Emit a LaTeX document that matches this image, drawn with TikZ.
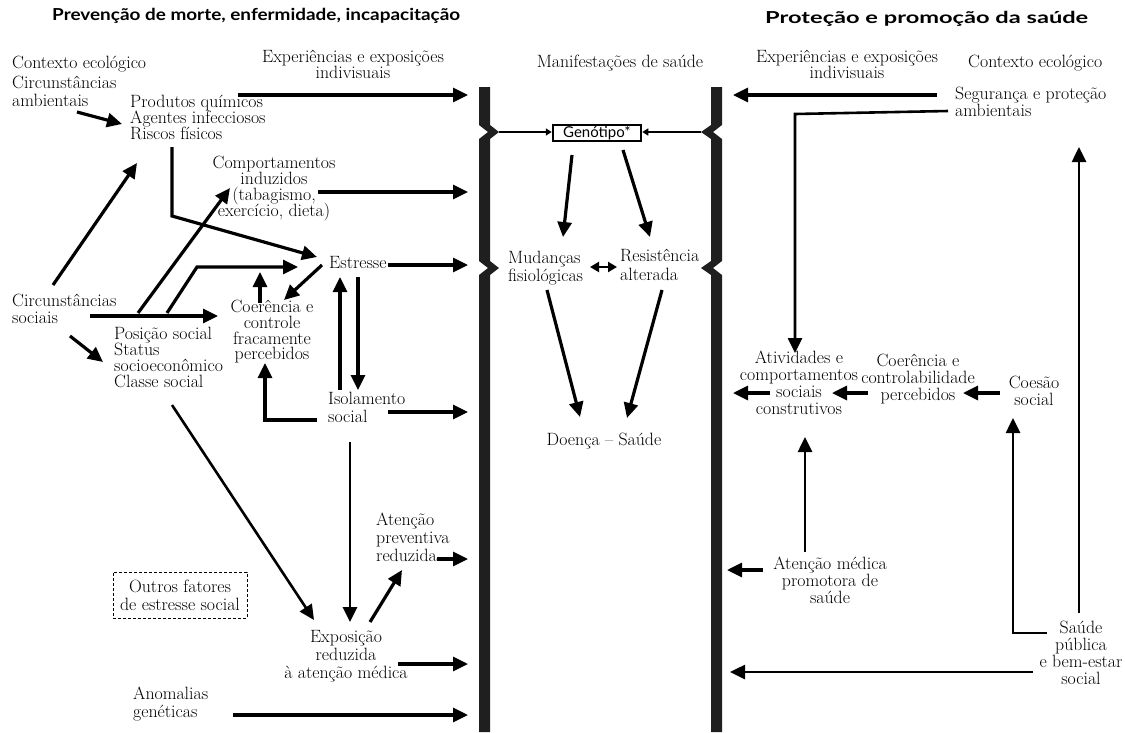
\documentclass[tikz,border=0pt]{standalone}
\usepackage{fontspec}
\usepackage{graphicx}
\newfontfamily\headfont{Lato}
\usetikzlibrary{arrows.meta}
\begin{document}
\begin{tikzpicture}[x=1pt,y=-1pt,
  tx/.style={inner sep=0pt, font={\fontsize{17.8}{#1}\selectfont\lineskiplimit=-50pt}, execute at begin node={\rule{0pt}{15pt}}},
  tx/.default=16.5,
  arr/.style={line width=3.2pt, -{Triangle[length=15pt,width=14pt]}},
  arrt/.style={line width=2.6pt, -{Triangle[length=15pt,width=14pt]}},
  gline/.style={line width=2pt, -{Triangle[length=6pt,width=7pt]}},
  barfill/.style={fill=black!88}
]
\useasboundingbox (0,0) rectangle (1125,732);

% ---------- headings
\node[anchor=base west, inner sep=0pt] (headL) at (52,20) {\resizebox{408pt}{\height}{\headfont\bfseries\fontsize{16.5}{17}\selectfont Prevenção de morte, enfermidade, incapacitação}};
\node[anchor=base west, inner sep=0pt] (headR) at (765,23) {\resizebox{323pt}{\height}{\headfont\bfseries\fontsize{16.5}{17}\selectfont Proteção e promoção da saúde}};

% ---------- bars
\fill[barfill] (479,87) -- (490,87) -- (490,125) -- (499,132) -- (490,139) -- (490,261) -- (499,268) -- (490,275) -- (490,732) -- (479,732) -- (479,275) -- (488,268) -- (479,261) -- (479,139) -- (488,132) -- (479,125) -- cycle;
\fill[barfill] (711,87) -- (722,87) -- (722,125) -- (713,132) -- (722,139) -- (722,261) -- (713,268) -- (722,275) -- (722,732) -- (711,732) -- (711,275) -- (701,268) -- (711,261) -- (711,139) -- (701,132) -- (711,125) -- cycle;
\coordinate (barLg) at (499,132);
\coordinate (barRg) at (701,132);

% ---------- left texts
\node[tx,anchor=north west] (ctxL) at (12,53) {Contexto ecológico};
\node[tx=18,anchor=north west,align=left] (circamb) at (12,76) {Circunstâncias\\ambientais};
\node[tx=16,anchor=north west,align=left] (prod) at (130,95) {Produtos químicos\\Agentes infecciosos\\Riscos físicos};
\node[tx=15.5,anchor=north,align=center] (expL) at (353,50) {Experiências e exposições\\indivisuais};
\node[tx=16,anchor=north,align=center] (comp) at (274,156) {Comportamentos\\induzidos\\(tabagismo,\\exercício, dieta)};
\node[tx=17,anchor=north west,align=left] (circsoc) at (12,294) {Circunstâncias\\sociais};
\node[tx=16,anchor=north west,align=left] (pos) at (114,327) {Posição social\\Status\\socioeconômico\\Classe social};
\node[tx=15.7,anchor=north,align=center] (coer) at (272,300) {Coerência e\\controle\\fracamente\\percebidos};
\node[tx,anchor=north west] (estr) at (329,253) {Estresse};
\node[tx=18,anchor=north west,align=left] (isol) at (328,392) {Isolamento\\social};
\node[tx=18,anchor=north west,align=left] (atprev) at (376,513) {Atenção\\preventiva\\reduzida};
\node[tx=18,draw,dash pattern=on 3pt off 2pt,line width=0.8pt,minimum width=134pt,minimum height=46pt,align=center] (outros) at (180,595) {Outros fatores\\de estresse social};
\node[tx=18,anchor=north,align=center] (expo) at (346,630) {Exposição\\reduzida\\à atenção médica};
\node[tx=18,anchor=north west,align=left] (anom) at (133,687) {Anomalias\\genéticas};

% ---------- middle texts
\node[tx,anchor=north] (manif) at (620,52) {Manifestações de saúde};
\node[draw,line width=2.5pt,minimum width=88pt,minimum height=16pt,inner sep=0pt,font=\headfont\fontsize{15}{15}\selectfont] (gen) at (597,133) {Genótipo*};
\node[tx=18,anchor=north west,align=left] (mud) at (508,251) {Mudanças\\fisiológicas};
\node[tx=19,anchor=north west,align=left] (res) at (620,249) {Resistência\\alterada};
\node[tx,anchor=north] (doenca) at (604,430) {Doença – Saúde};

% ---------- right texts
\node[tx=15.5,anchor=north,align=center] (expR) at (847,50) {Experiências e exposições\\indivisuais};
\node[tx,anchor=north west] (ctxR) at (968,52) {Contexto ecológico};
\node[tx=16.5,anchor=north west,align=left] (seg) at (955,87) {Segurança e proteção\\ambientais};
\node[tx=17,anchor=north,align=center] (ativ) at (799,351) {Atividades e\\comportamentos\\sociais\\construtivos};
\node[tx=17,anchor=north,align=center] (coerR) at (918,354) {Coerência e\\controlabilidade\\percebidos};
\node[tx=17,anchor=north,align=center] (coes) at (1034,376) {Coesão\\social};
\node[tx=17,anchor=north,align=center] (atmed) at (830,557) {Atenção médica\\promotora de\\saúde};
\node[tx=17,anchor=north,align=center] (saude) at (1081,621) {Saúde\\pública\\e bem-estar\\social};

% ---------- connector coordinates (left)
\coordinate (prodA) at (238,95);   \coordinate (barL1) at (468,95);
\coordinate (ambA) at (77,112);    \coordinate (prodIn) at (122,124);
\coordinate (compA) at (318,192);  \coordinate (barL2) at (468,192);
\coordinate (riscA) at (172,147);  \coordinate (riscB) at (172,216); \coordinate (estrIn1) at (317,257);
\coordinate (socA) at (53,285);    \coordinate (prodIn2) at (137,163);
\coordinate (posA) at (138,313);   \coordinate (compIn) at (230,188);
\coordinate (socB) at (90,316);    \coordinate (coerIn) at (218,316);
\coordinate (posB) at (167,313);   \coordinate (posBend) at (197,267); \coordinate (estrIn2) at (298,267);
\coordinate (socC) at (70,336);    \coordinate (posIn) at (103,362);
\coordinate (coerA) at (260,303);  \coordinate (coerUp) at (260,272);
\coordinate (estrA) at (322,265);  \coordinate (coerIn2) at (284,300);
\coordinate (estrB) at (388,265);  \coordinate (barL3) at (468,265);
\coordinate (isolA) at (340,390);  \coordinate (estrIn3) at (340,277);
\coordinate (estrC) at (358,277);  \coordinate (isolIn) at (358,390);
\coordinate (isolB) at (317,420);  \coordinate (coerIn3) at (265,363);
\coordinate (isolC) at (388,412);  \coordinate (barL4) at (468,412);
\coordinate (posC) at (172,405);   \coordinate (expoIn1) at (314,620);
\coordinate (isolD) at (350,442);  \coordinate (expoIn2) at (350,622);
\coordinate (expoA) at (370,622);  \coordinate (atprevIn) at (402,570);
\coordinate (atprevA) at (437,559); \coordinate (barL5) at (468,559);
\coordinate (expoB) at (398,664);  \coordinate (barL6) at (468,664);
\coordinate (anomA) at (233,715);  \coordinate (barL7) at (468,715);

\draw[arr] (prodA) -- (barL1);
\draw[arr] (ambA) -- (prodIn);
\draw[arr] (compA) -- (barL2);
\draw[arr] (riscA) -- (riscB) -- (estrIn1);
\draw[arr] (socA) -- (prodIn2);
\draw[arr] (posA) -- (compIn);
\draw[arr] (socB) -- (coerIn);
\draw[arr] (posB) -- (posBend) -- (estrIn2);
\draw[arr] (socC) -- (posIn);
\draw[arr] (coerA) -- (coerUp);
\draw[arr] (estrA) -- (coerIn2);
\draw[arr] (estrB) -- (barL3);
\draw[arr] (isolA) -- (estrIn3);
\draw[arr] (estrC) -- (isolIn);
\draw[arr] (isolB) -| (coerIn3);
\draw[arr] (isolC) -- (barL4);
\draw[arrt] (posC) -- (expoIn1);
\draw[arrt] (isolD) -- (expoIn2);
\draw[arr] (expoA) -- (atprevIn);
\draw[arr] (atprevA) -- (barL5);
\draw[arr] (expoB) -- (barL6);
\draw[arr] (anomA) -- (barL7);

% ---------- middle connectors
\draw[gline] (barLg) -- (barLg -| gen.west);
\draw[gline] (barRg) -- (barRg -| gen.east);
\coordinate (genA) at (572,155);  \coordinate (mudIn) at (563,237);
\coordinate (genB) at (623,150);  \coordinate (resIn) at (650,237);
\coordinate (mudR) at (590,267);  \coordinate (resL) at (617,267);
\coordinate (mudA) at (547,290);  \coordinate (doeIn1) at (580,417);
\coordinate (resA) at (662,290);  \coordinate (doeIn2) at (627,418);
\draw[arr] (genA) -- (mudIn);
\draw[arr] (genB) -- (resIn);
\draw[line width=2.4pt, {Triangle[length=9pt,width=10pt]}-{Triangle[length=9pt,width=10pt]}] (mudR) -- (resL);
\draw[arr] (mudA) -- (doeIn1);
\draw[arr] (resA) -- (doeIn2);

% ---------- right connectors
\coordinate (segA) at (937,95);    \coordinate (barR1) at (733,95);
\coordinate (segB) at (948,111);   \coordinate (segBend) at (795,114); \coordinate (ativIn) at (795,353);
\coordinate (saudeUp) at (1079,613); \coordinate (topR) at (1079,147);
\coordinate (ativA) at (770,393);  \coordinate (barR2) at (733,393);
\coordinate (coerRA) at (868,393); \coordinate (ativIn2) at (832,393);
\coordinate (coesA) at (1000,393); \coordinate (coerRIn) at (963,393);
\coordinate (atmedA) at (805,552); \coordinate (ativIn3) at (805,437);
\coordinate (atmedB) at (763,570); \coordinate (barR3) at (727,570);
\coordinate (saudeA) at (1047,633); \coordinate (coesIn) at (1013,418);
\coordinate (saudeB) at (1033,672); \coordinate (barR4) at (730,672);

\draw[arr] (segA) -- (barR1);
\draw[arrt] (segB) -- (segBend) -- (ativIn);
\draw[arrt] (saudeUp) -- (topR);
\draw[arr] (ativA) -- (barR2);
\draw[arr] (coerRA) -- (ativIn2);
\draw[arr] (coesA) -- (coerRIn);
\draw[arrt] (atmedA) -- (ativIn3);
\draw[arr] (atmedB) -- (barR3);
\draw[arrt] (saudeA) -| (coesIn);
\draw[arrt] (saudeB) -- (barR4);
\end{tikzpicture}
\end{document}
